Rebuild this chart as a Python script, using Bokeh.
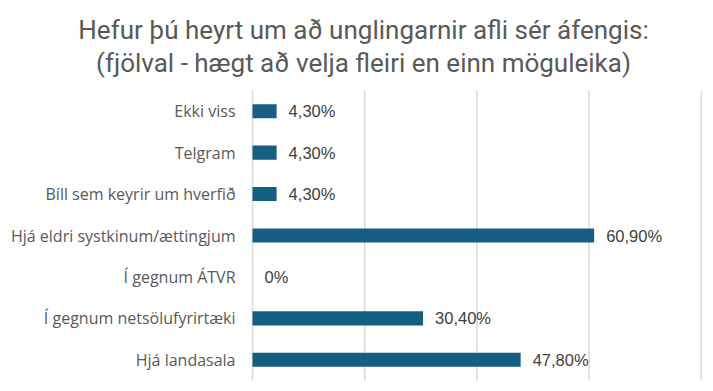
from bokeh.plotting import figure
from bokeh.models import Range1d, ColumnDataSource
from bokeh.core.properties import value
from bokeh.embed import file_html
from bokeh.resources import INLINE

categories = ["Ekki viss", "Telgram", "Bíll sem keyrir um hverfið",
              "Hjá eldri systkinum/ættingjum", "Í gegnum ÁTVR",
              "Í gegnum netsölufyrirtæki", "Hjá landasala"]
values = [4.3, 4.3, 4.3, 60.9, 0.0, 30.4, 47.8]
value_labels = ["4,30%", "4,30%", "4,30%", "60,90%", "0%", "30,40%", "47,80%"]
title_line1 = "Hefur þú heyrt um að unglingarnir afli sér áfengis:"
title_line2 = "(fjölval - hægt að velja fleiri en einn möguleika)"
grid_ticks = [0, 20, 40, 60, 80]

# layout (pixels)
W, H = 705, 383
left_px, top_px, row_px, px_per_unit = 252, 90, 41.43, 5.61
n = len(categories)
pos = list(range(n))

x0 = -left_px / px_per_unit
x1 = (W - left_px) / px_per_unit
y_top = -0.5 - top_px / row_px
y_bot = (H - top_px) / row_px - 0.5

src = ColumnDataSource(dict(cat=categories, pos=pos, val=values, lab=value_labels))

p = figure(width=W, height=H, output_backend="svg", toolbar_location=None,
           x_range=Range1d(x0, x1), y_range=Range1d(y_bot, y_top),
           min_border=0, title=None)
p.outline_line_color = None
p.axis.visible = False
p.grid.visible = False
p.background_fill_color = "white"
p.border_fill_color = "white"

# vertical gridlines across the plot area
p.segment(x0=grid_ticks, x1=grid_ticks, y0=[-0.5] * len(grid_ticks),
          y1=[n - 0.5] * len(grid_ticks), line_color="#d9d9d9", line_width=1.5)

p.hbar(y="pos", left=0, right="val", height=0.34, source=src,
       fill_color="#156082", line_color=None)

# category labels
p.text(x=0, y="pos", text="cat", source=src, x_offset=-17,
       text_align="right", text_baseline="middle",
       text_font=value("Open Sans"), text_font_size="16px", text_color="#595959")

# value labels
p.text(x="val", y="pos", text="lab", source=src, x_offset=12,
       text_align="left", text_baseline="middle",
       text_font=value("Liberation Sans"), text_font_size="16.5px", text_color="#404040")

# title
title_x = (363 - left_px) / px_per_unit
p.text(x=[title_x, title_x], y=[-0.5, -0.5], text=[title_line1, title_line2],
       y_offset=[-61, -28], text_align="center", text_baseline="alphabetic",
       text_font=value("Roboto"), text_font_size="26px",
       text_color="#595959")

open("out.html", "w").write(file_html(p, INLINE))
